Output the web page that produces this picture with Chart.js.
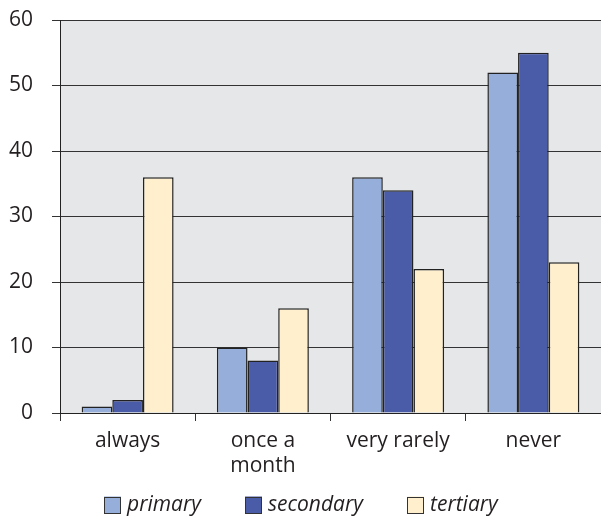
<!DOCTYPE html>
<html>
<head>
<meta charset="utf-8">
<script src="https://cdn.jsdelivr.net/npm/chart.js@4"></script>
<style>
  html, body { margin: 0; padding: 0; background: #fff; }
  #wrap { width: 601px; height: 516px; }
</style>
</head>
<body>
<div id="wrap"><canvas id="chart" width="601" height="516"></canvas></div>
<script>
const categories = ['always', ['once a', 'month'], 'very rarely', 'never'];
const seriesNames = ['primary', 'secondary', 'tertiary'];
const primaryValues = [1, 10, 36, 52];
const secondaryValues = [2, 8, 34, 55];
const tertiaryValues = [36, 16, 22, 23];
const yTicks = [0, 10, 20, 30, 40, 50, 60];

const FONT = '"Open Sans", "DejaVu Sans", sans-serif';
const colors = ['#95AEDA', '#4A5BA8', '#FFEFCC'];

// grey plot background
const plotBg = {
  id: 'plotBg',
  beforeDraw(chart) {
    const { ctx, chartArea: a } = chart;
    ctx.save();
    ctx.fillStyle = '#E6E7E9';
    ctx.fillRect(a.left, a.top, a.right - a.left, a.bottom - a.top);
    ctx.restore();
  }
};

// legend row under the axis, drawn from dataset names/colours
const bottomLegend = {
  id: 'bottomLegend',
  afterDraw(chart) {
    const ctx = chart.ctx;
    const box = 17, gapText = 6, gapItem = 44, cy = 505;
    ctx.save();
    ctx.font = 'italic 21px ' + FONT;
    const items = chart.data.datasets.map(ds => ({
      label: ds.label, color: ds.backgroundColor, w: box + gapText + ctx.measureText(ds.label).width
    }));
    const total = items.reduce((s, it) => s + it.w, 0) + gapItem * (items.length - 1);
    let x = Math.round((chart.width - total) / 2);
    items.forEach(it => {
      ctx.fillStyle = it.color;
      ctx.fillRect(x, cy - box / 2, box, box);
      ctx.strokeStyle = '#333';
      ctx.lineWidth = 1;
      ctx.strokeRect(x + 0.5, Math.round(cy - box / 2) + 0.5, box - 1, box - 1);
      ctx.fillStyle = '#231F20';
      ctx.textBaseline = 'middle';
      ctx.textAlign = 'left';
      ctx.fillText(it.label, x + box + gapText, cy);
      x += Math.round(it.w + gapItem);
    });
    ctx.restore();
  }
};

new Chart(document.getElementById('chart'), {
  type: 'bar',
  data: {
    labels: categories,
    datasets: [
      { label: seriesNames[0], data: primaryValues, backgroundColor: colors[0] },
      { label: seriesNames[1], data: secondaryValues, backgroundColor: colors[1] },
      { label: seriesNames[2], data: tertiaryValues, backgroundColor: colors[2] }
    ]
  },
  options: {
    responsive: false,
    animation: false,
    layout: { padding: { top: 20, right: 0, left: 0, bottom: 0 } },
    datasets: {
      bar: {
        categoryPercentage: 0.68,
        barPercentage: 1,
        borderColor: '#222',
        borderWidth: 1.5
      }
    },
    plugins: {
      legend: { display: false },
      tooltip: { enabled: false }
    },
    scales: {
      x: {
        offset: true,
        grid: { offset: true, drawOnChartArea: false, drawTicks: true, tickLength: 8, color: '#333' },
        border: { color: '#222', width: 1 },
        ticks: {
          color: '#231F20',
          padding: 7,
          maxRotation: 0,
          autoSkip: false,
          font: { family: FONT, size: 21, lineHeight: 1.2 }
        },
        afterFit(scale) { scale.height = 103; }
      },
      y: {
        min: 0,
        max: 60,
        afterBuildTicks(scale) { scale.ticks = yTicks.map(v => ({ value: v })); },
        grid: { color: '#333', lineWidth: 1, drawTicks: true, tickLength: 8 },
        border: { color: '#222', width: 1 },
        ticks: {
          color: '#231F20',
          padding: 19,
          font: { family: FONT, size: 21 }
        },
        afterFit(scale) { scale.width = 60; scale.paddingTop = 0; }
      }
    }
  },
  plugins: [plotBg, bottomLegend]
});
</script>
</body>
</html>
